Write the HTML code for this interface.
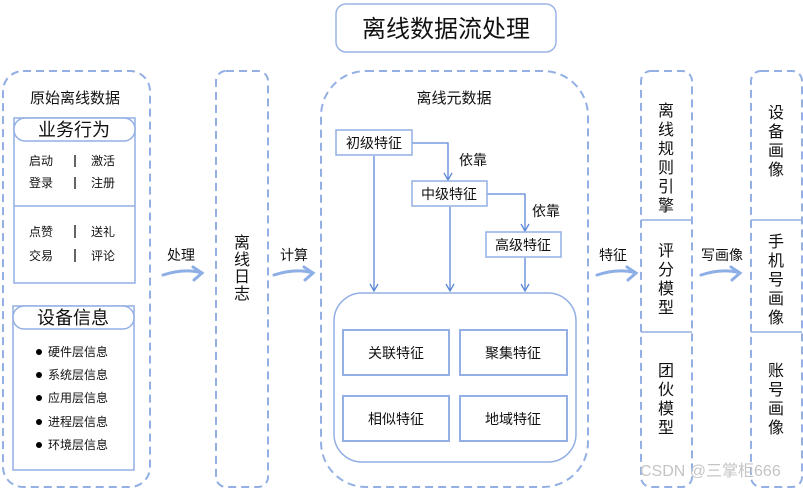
<!DOCTYPE html>
<html><head><meta charset="utf-8"><style>
html,body{margin:0;padding:0;background:#fff;}
svg{display:block;}
text{font-family:"Liberation Sans","Noto Sans CJK SC",sans-serif;fill:#111;}
</style></head><body>
<svg width="803" height="491" viewBox="0 0 803 491" xmlns="http://www.w3.org/2000/svg">
<defs>
<marker id="ah" markerWidth="10" markerHeight="10" refX="8" refY="5" orient="auto" markerUnits="userSpaceOnUse">
<path d="M1,1 L8,5 L1,9" fill="none" stroke="#5b86d6" stroke-width="1.3"/>
</marker>
</defs>
<!-- title -->
<rect x="336" y="4" width="220" height="48" rx="10" fill="#fff" stroke="#9bb4e6" stroke-width="1.5"/>
<text x="446" y="37" font-size="24" text-anchor="middle">离线数据流处理</text>

<g fill="none" stroke="#93afe4" stroke-width="2" stroke-dasharray="8,5">
<rect x="3" y="71" width="147" height="416" rx="20"/>
<rect x="216" y="71" width="52" height="416" rx="10"/>
<rect x="321" y="71" width="267" height="416" rx="45"/>
<rect x="641" y="71" width="51" height="416" rx="10"/>
<rect x="751" y="71" width="51" height="416" rx="10"/>
</g>
<g stroke="#93afe4" stroke-width="1.5">
<line x1="641" y1="220" x2="692" y2="220"/><line x1="641" y1="332" x2="692" y2="332"/>
<line x1="751" y1="220" x2="802" y2="220"/><line x1="751" y1="332" x2="802" y2="332"/>
</g>

<!-- left -->
<text x="75" y="103" font-size="15" text-anchor="middle">原始离线数据</text>
<rect x="14" y="118" width="121" height="165" fill="#fff" stroke="#93afe4" stroke-width="1.5"/>
<rect x="14" y="118" width="121" height="23" rx="11" fill="#fff" stroke="#93afe4" stroke-width="1.5"/>
<text x="74" y="136" font-size="18" text-anchor="middle">业务行为</text>
<line x1="14" y1="206" x2="135" y2="206" stroke="#93afe4" stroke-width="1.5"/>
<g font-size="12">
<text x="29" y="165">启动</text><text x="91" y="165">激活</text>
<text x="29" y="187">登录</text><text x="91" y="187">注册</text>
<text x="29" y="236">点赞</text><text x="91" y="236">送礼</text>
<text x="29" y="260">交易</text><text x="91" y="260">评论</text>
</g>
<g stroke="#111" stroke-width="1.3">
<line x1="75" y1="155" x2="75" y2="167"/><line x1="75" y1="177" x2="75" y2="189"/>
<line x1="75" y1="225" x2="75" y2="238"/><line x1="75" y1="249" x2="75" y2="262"/>
</g>
<rect x="13" y="306" width="121" height="164" fill="#fff" stroke="#93afe4" stroke-width="1.5"/>
<rect x="13" y="306" width="121" height="23" rx="11" fill="#fff" stroke="#93afe4" stroke-width="1.5"/>
<text x="73" y="324" font-size="18" text-anchor="middle">设备信息</text>
<g font-size="12">
<circle cx="39" cy="352" r="3" fill="#000"/><text x="48" y="356">硬件层信息</text>
<circle cx="39" cy="375" r="3" fill="#000"/><text x="48" y="379">系统层信息</text>
<circle cx="39" cy="398" r="3" fill="#000"/><text x="48" y="402">应用层信息</text>
<circle cx="39" cy="422" r="3" fill="#000"/><text x="48" y="426">进程层信息</text>
<circle cx="39" cy="445" r="3" fill="#000"/><text x="48" y="449">环境层信息</text>
</g>

<!-- big arrows -->
<g fill="none" stroke="#8eaee6" stroke-width="3" stroke-linecap="round">
<path d="M163,275 Q185,268 202,273"/><path d="M193,267 L202,273 L194,280"/>
<path d="M274,275 Q296,268 313,273"/><path d="M304,267 L313,273 L305,280"/>
<path d="M597,275 Q619,268 636,273"/><path d="M627,267 L636,273 L628,280"/>
<path d="M701,275 Q723,268 740,273"/><path d="M731,267 L740,273 L732,280"/>
</g>
<g font-size="14">
<text x="167" y="260">处理</text>
<text x="280" y="260">计算</text>
<text x="599" y="260">特征</text>
<text x="701" y="260">写画像</text>
</g>

<!-- vertical texts -->
<g font-size="16" text-anchor="middle">
<text x="242" y="248">离</text><text x="242" y="265">线</text><text x="242" y="282">日</text><text x="242" y="299">志</text>
<text x="666" y="116">离</text><text x="666" y="135">线</text><text x="666" y="154">规</text><text x="666" y="173">则</text><text x="666" y="192">引</text><text x="666" y="211">擎</text>
<text x="666" y="256">评</text><text x="666" y="275">分</text><text x="666" y="294">模</text><text x="666" y="313">型</text>
<text x="666" y="376">团</text><text x="666" y="395">伙</text><text x="666" y="414">模</text><text x="666" y="433">型</text>
<text x="776" y="118">设</text><text x="776" y="137">备</text><text x="776" y="156">画</text><text x="776" y="175">像</text>
<text x="776" y="247">手</text><text x="776" y="266">机</text><text x="776" y="285">号</text><text x="776" y="304">画</text><text x="776" y="323">像</text>
<text x="776" y="376">账</text><text x="776" y="395">号</text><text x="776" y="414">画</text><text x="776" y="433">像</text>
</g>

<!-- metadata -->
<text x="454" y="103" font-size="15" text-anchor="middle">离线元数据</text>
<g fill="none" stroke="#5b86d6" stroke-width="1.3">
<path d="M412,143 H448 V180" marker-end="url(#ah)"/>
<path d="M487,194 H525 V231" marker-end="url(#ah)"/>
<path d="M374,156 V291" marker-end="url(#ah)"/>
<path d="M450,207 V291" marker-end="url(#ah)"/>
<path d="M525,258 V291" marker-end="url(#ah)"/>
</g>
<g fill="#fff" stroke="#93afe4" stroke-width="1.5">
<rect x="336" y="130" width="76" height="25"/>
<rect x="412" y="181" width="75" height="25"/>
<rect x="486" y="232" width="75" height="25"/>
</g>
<g font-size="14" text-anchor="middle">
<text x="374" y="148">初级特征</text>
<text x="449" y="199">中级特征</text>
<text x="523" y="250">高级特征</text>
<text x="473" y="165">依靠</text>
<text x="546" y="216">依靠</text>
</g>
<rect x="334" y="293" width="242" height="169" rx="28" fill="#fff" stroke="#93afe4" stroke-width="1.5"/>
<g fill="#fff" stroke="#93afe4" stroke-width="2">
<rect x="343" y="330" width="106" height="45"/><rect x="460" y="330" width="107" height="45"/>
<rect x="343" y="396" width="106" height="45"/><rect x="460" y="396" width="107" height="45"/>
</g>
<g font-size="14" text-anchor="middle">
<text x="396" y="358">关联特征</text><text x="513" y="358">聚集特征</text>
<text x="396" y="424">相似特征</text><text x="513" y="424">地域特征</text>
</g>
<text x="640" y="476" font-size="16" fill="#c8c8c8" style="fill:#c4c4c4">CSDN @三掌柜666</text>
</svg>
</body></html>
